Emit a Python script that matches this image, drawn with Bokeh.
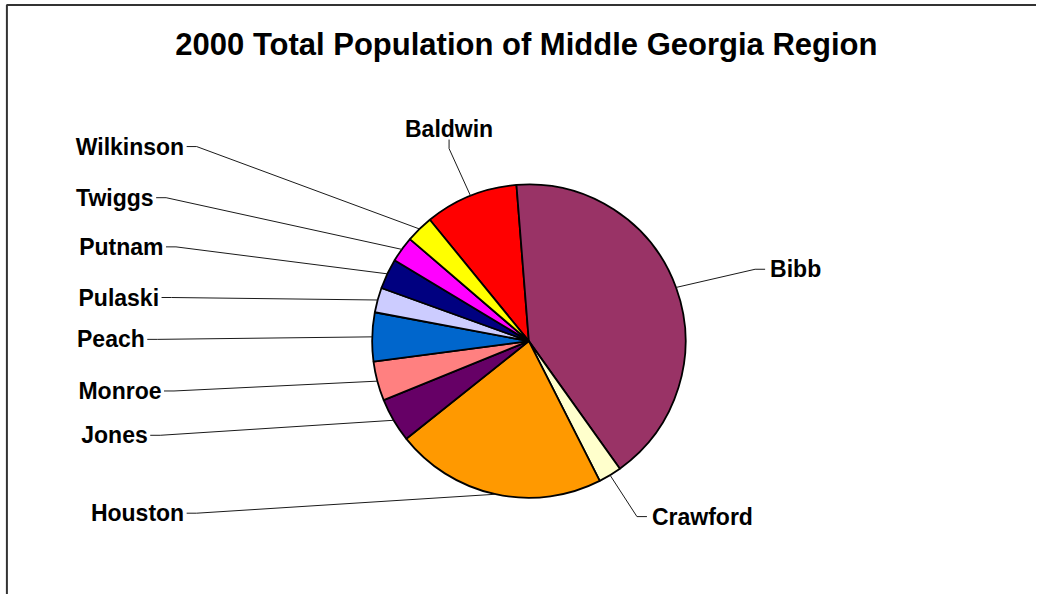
import math
from bokeh.plotting import figure
from bokeh.models import Range1d, ColumnDataSource, BoxAnnotation, Label
from bokeh.embed import file_html
from bokeh.resources import INLINE

# ---- data ----
counties = ["Baldwin", "Bibb", "Crawford", "Houston", "Jones", "Monroe",
            "Peach", "Pulaski", "Putnam", "Twiggs", "Wilkinson"]
population = [35800, 153900, 8900, 80900, 17000, 15100,
              18700, 9500, 11600, 9900, 10500]
colors = ["#FF0000", "#993366", "#FFFFCC", "#FF9900", "#660066", "#FF8080",
          "#0066CC", "#CCCCFF", "#000080", "#FF00FF", "#FFFF00"]
title_text = "2000 Total Population of Middle Georgia Region"

# ---- layout ----
W, H = 1036, 594
SX, SY = W / 1052.0, H / 610.0


def X(ax):
    return ax * SX


def Y(ay):
    return H - ay * SY


CX, CY, R = X(536.5), Y(349.8), 160.0 * (SX + SY) / 2.0
FIRST_ANGLE = 320.8  # clockwise from 12 o'clock, in degrees

# label layout: side, anchor (text edge) in reference pixels
label_layout = {
    "Baldwin":   ("top",   455.5, 131.5),
    "Wilkinson": ("left",  186.5, 150.0),
    "Twiggs":    ("left",  155.5, 202.5),
    "Putnam":    ("left",  165.5, 253.0),
    "Pulaski":   ("left",  161.0, 305.0),
    "Peach":     ("left",  146.5, 348.0),
    "Monroe":    ("left",  163.5, 401.0),
    "Jones":     ("left",  149.5, 446.5),
    "Houston":   ("left",  186.5, 526.5),
    "Bibb":      ("right", 781.5, 276.0),
    "Crawford":  ("right", 661.5, 530.0),
}

p = figure(width=W, height=H, output_backend="svg", toolbar_location=None,
           x_range=Range1d(0, W), y_range=Range1d(0, H), min_border=0)
p.axis.visible = False
p.grid.visible = False
p.outline_line_color = None
p.background_fill_color = "white"
p.border_fill_color = "white"

# chart frame (only the top and left edges are visible in the picture)
p.add_layout(BoxAnnotation(left=X(6.5), right=W + 20, top=Y(4.5), bottom=-20,
                           fill_alpha=0, line_color="#333333", line_alpha=1.0,
                           line_width=2))

total = float(sum(population))
starts, ends, mids = [], [], []
a = FIRST_ANGLE
for v in population:
    b = a + v / total * 360.0
    starts.append(math.radians(90.0 - b))
    ends.append(math.radians(90.0 - a))
    mids.append((a + b) / 2.0)
    a = b

src = ColumnDataSource(dict(county=counties, pop=population, color=colors,
                            start=starts, end=ends))
p.wedge(x=CX, y=CY, radius=R, start_angle="start", end_angle="end",
        fill_color="color", line_color="black", line_width=1.8, source=src)

# leader lines + labels
xs, ys = [], []
FONT = "Liberation Sans"
LBL = "23px"
for name, mid in zip(counties, mids):
    side, ax, ay = label_layout[name]
    px = CX + R * math.sin(math.radians(mid))
    py = CY + R * math.cos(math.radians(mid))
    if side == "left":
        x0 = X(ax) + 2.5
        xs.append([x0, x0 + 10, px])
        ys.append([Y(ay), Y(ay), py])
        p.add_layout(Label(x=X(ax), y=Y(ay), text=name, text_align="right",
                           text_baseline="middle", text_font=FONT,
                           text_font_style="bold", text_font_size=LBL,
                           text_color="black"))
    elif side == "right":
        x0 = X(ax) - 5
        xs.append([x0, x0 - 10, px])
        ys.append([Y(ay), Y(ay), py])
        p.add_layout(Label(x=X(ax), y=Y(ay), text=name, text_align="left",
                           text_baseline="middle", text_font=FONT,
                           text_font_style="bold", text_font_size=LBL,
                           text_color="black"))
    else:
        y0 = Y(ay) - 11
        xs.append([X(ax), X(ax), px])
        ys.append([y0, y0 - 9, py])
        p.add_layout(Label(x=X(ax), y=Y(ay), text=name, text_align="center",
                           text_baseline="alphabetic", text_font=FONT,
                           text_font_style="bold", text_font_size=LBL,
                           text_color="black"))

p.multi_line(xs=xs, ys=ys, line_color="#1a1a1a", line_width=1)

p.add_layout(Label(x=X(534), y=Y(45), text=title_text, text_align="center",
                   text_baseline="middle", text_font=FONT,
                   text_font_style="bold", text_font_size="31px",
                   text_color="black"))

open("out.html", "w").write(file_html(p, INLINE))
